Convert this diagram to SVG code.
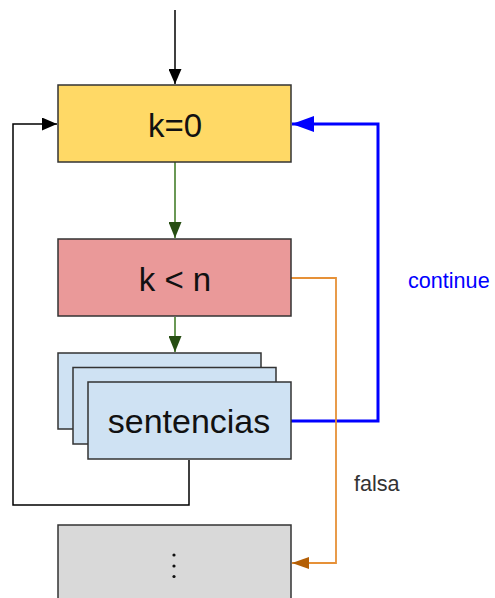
<svg xmlns="http://www.w3.org/2000/svg" width="495" height="598" viewBox="0 0 495 598">
<style>
.box{stroke:#333;stroke-width:1.5}
.lbl{font-family:"Liberation Sans",Arial,sans-serif;fill:#111;text-anchor:middle}
</style>
<defs>
<marker id="ab" markerWidth="15" markerHeight="13" viewBox="0 0 15 13" refX="15" refY="6.5" orient="auto" markerUnits="userSpaceOnUse"><path d="M0,0 L15,6.5 L0,13 z" fill="#000"/></marker>
<marker id="ag" markerWidth="16" markerHeight="13" viewBox="0 0 16 13" refX="16" refY="6.5" orient="auto" markerUnits="userSpaceOnUse"><path d="M0,0 L16,6.5 L0,13 z" fill="#274e13"/></marker>
<marker id="abl" markerWidth="22" markerHeight="16" viewBox="0 0 22 16" refX="22" refY="8" orient="auto" markerUnits="userSpaceOnUse"><path d="M0,0 L22,8 L0,16 z" fill="#0000ff"/></marker>
<marker id="ao" markerWidth="17" markerHeight="12" viewBox="0 0 17 12" refX="17" refY="6" orient="auto" markerUnits="userSpaceOnUse"><path d="M0,0 L17,6 L0,12 z" fill="#b45f06"/></marker>
</defs>
<g id="connectors" fill="none">
<path d="M175,10 V84" stroke="#000" stroke-width="1.5" marker-end="url(#ab)"/>
<path d="M189,460 V505 H13 V124 H57" stroke="#000" stroke-width="1.5" marker-end="url(#ab)"/>
<path d="M175,162 V238" stroke="#38761d" stroke-width="1.5" marker-end="url(#ag)"/>
<path d="M175,317 V352" stroke="#38761d" stroke-width="1.5" marker-end="url(#ag)"/>
<path d="M291,421 H378 V124 H292" stroke="#0000ff" stroke-width="3" marker-end="url(#abl)"/>
<path d="M291,278 H336 V563 H292" stroke="#e69138" stroke-width="1.8" marker-end="url(#ao)"/>
</g>
<g id="n_k0">
<rect class="box" x="58" y="85" width="233" height="77" fill="#ffd966"/>
<text class="lbl" x="175" y="137" font-size="33">k=0</text>
</g>
<g id="n_cond">
<rect class="box" x="58" y="239" width="233" height="77" fill="#ea9999"/>
<text class="lbl" x="175" y="290.5" font-size="33">k &lt; n</text>
</g>
<g id="n_sent">
<rect class="box" x="58" y="353" width="203" height="76" fill="#cfe2f3"/>
<rect class="box" x="73" y="367.5" width="203" height="76.5" fill="#cfe2f3"/>
<rect class="box" x="88" y="382" width="203" height="77" fill="#cfe2f3"/>
<text class="lbl" x="189" y="432.5" font-size="34">sentencias</text>
</g>
<g id="n_next">
<rect class="box" x="58" y="525" width="233" height="80" fill="#d9d9d9"/>
<circle cx="174" cy="555" r="1.6" fill="#111"/>
<circle cx="174" cy="566" r="1.6" fill="#111"/>
<circle cx="174" cy="576.5" r="1.6" fill="#111"/>
</g>
<text x="408" y="288" font-family="'Liberation Sans',Arial,sans-serif" font-size="21.6" fill="#0000ff">continue</text>
<text x="354" y="490.5" font-family="'Liberation Sans',Arial,sans-serif" font-size="21.6" fill="#333">falsa</text>
</svg>
